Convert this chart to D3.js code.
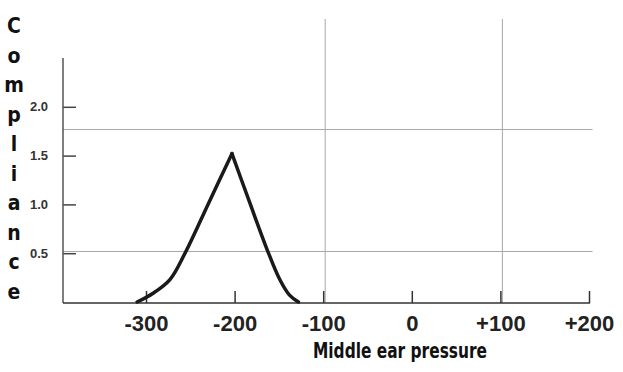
<!DOCTYPE html>
<html>
<head>
<meta charset="utf-8">
<script src="https://cdn.jsdelivr.net/npm/d3@7"></script>
<style>
	body {margin: 0; background: #fff;}
	svg {display: block;}
</style>
</head>
<body>
<div id="chart"></div>
<script>
// tympanogram values
var pressure   = [-310, -292, -273, -256, -230, -203, -183, -163, -149, -138, -128];
var compliance = [0.00, 0.09, 0.23, 0.50, 1.00, 1.52, 1.02, 0.53, 0.23, 0.07, 0.00];
var peakIndex = 5;

var xTicks = [-300, -200, -100, 0, 100, 200];
var xTickLabels = ["-300", "-200", "-100", "0", "+100", "+200"];
var yTicks = [0.5, 1.0, 1.5, 2.0];
var gridX = [-100, 100];
var gridY = [0.5, 1.75];
var yTitle = "Compliance";
var xTitle = "Middle ear pressure";

var width = 623, height = 372;
var svg = d3.select("#chart").append("svg")
	.attr("width", width)
	.attr("height", height);

svg.append("rect").attr("width", width).attr("height", height).attr("fill", "#fff");

// scales
var xScale = d3.scaleLinear().domain([-300, 200]).range([146, 589]);
var yScale = d3.scaleLinear().domain([0, 2.5]).range([302, 58]);
var axisX = 63, axisY = 303;

// grid lines
svg.selectAll(".gx").data(gridX).enter().append("line")
	.attr("x1", function(d) { return xScale(d) + 2; })
	.attr("x2", function(d) { return xScale(d) + 2; })
	.attr("y1", yScale(2.9))
	.attr("y2", axisY)
	.style("stroke", "#a8a8a8")
	.style("stroke-width", 1);

svg.selectAll(".gy").data(gridY).enter().append("line")
	.attr("x1", axisX)
	.attr("x2", xScale(204))
	.attr("y1", function(d) { return Math.round(yScale(d)) - 1.5; })
	.attr("y2", function(d) { return Math.round(yScale(d)) - 1.5; })
	.style("stroke", "#a8a8a8")
	.style("stroke-width", 1);

// y axis (ticks pointing right, labels on the left)
var gy = svg.append("g")
	.attr("transform", "translate(" + axisX + ",0)")
	.call(d3.axisLeft(yScale).tickValues(yTicks)
		.tickFormat(d3.format(".1f"))
		.tickSizeInner(-13).tickSizeOuter(0).tickPadding(15));
gy.select(".domain").remove();
gy.selectAll(".tick line").style("stroke", "#444").style("stroke-width", 1.5);
gy.selectAll(".tick text")
	.style("font-family", "Liberation Sans, Arial, sans-serif")
	.style("font-weight", "bold")
	.style("font-size", "13px")
	.style("fill", "#333");
svg.append("line")
	.attr("x1", axisX).attr("x2", axisX)
	.attr("y1", yScale(2.5)).attr("y2", axisY)
	.style("stroke", "#555").style("stroke-width", 1.5);

// x axis (ticks pointing up)
var gx = svg.append("g")
	.attr("transform", "translate(0," + axisY + ")")
	.call(d3.axisBottom(xScale).tickValues(xTicks)
		.tickFormat(function(d, i) { return xTickLabels[i]; })
		.tickSizeInner(-12).tickSizeOuter(0).tickPadding(12));
gx.select(".domain").remove();
gx.selectAll(".tick line").style("stroke", "#333").style("stroke-width", 1.5);
gx.selectAll(".tick text")
	.style("font-family", "Liberation Sans, Arial, sans-serif")
	.style("font-weight", "bold")
	.style("font-size", "22px")
	.style("fill", "#222");
svg.append("line")
	.attr("x1", axisX).attr("x2", xScale(200) + 1)
	.attr("y1", axisY).attr("y2", axisY)
	.style("stroke", "#333").style("stroke-width", 1.5);

// curve: two smooth sides meeting in a sharp peak
var points = pressure.map(function(p, i) { return [p, compliance[i]]; });
var line = d3.line()
	.x(function(d) { return xScale(d[0]); })
	.y(function(d) { return yScale(d[1]); })
	.curve(d3.curveCatmullRom.alpha(0.5));

[points.slice(0, peakIndex + 1), points.slice(peakIndex)].forEach(function(side) {
	svg.append("path")
		.attr("d", line(side))
		.style("fill", "none")
		.style("stroke", "#1a1a1a")
		.style("stroke-width", 3.5)
		.style("stroke-linecap", "round")
		.style("stroke-linejoin", "round");
});

// titles
svg.selectAll(".ylet").data(yTitle.split("")).enter().append("text")
	.attr("x", 14)
	.attr("y", function(d, i) { return 33 + i * 29.5; })
	.attr("text-anchor", "middle")
	.style("font-family", "DejaVu Sans Condensed, DejaVu Sans, sans-serif")
	.style("font-weight", "bold")
	.style("font-size", "21px")
	.style("fill", "#111")
	.text(function(d) { return d; });

svg.append("text")
	.attr("x", 400)
	.attr("y", 358)
	.attr("text-anchor", "middle")
	.attr("textLength", 174)
	.attr("lengthAdjust", "spacingAndGlyphs")
	.style("font-family", "DejaVu Sans Condensed, DejaVu Sans, sans-serif")
	.style("font-weight", "bold")
	.style("font-size", "21px")
	.style("fill", "#111")
	.text(xTitle);
</script>
</body>
</html>
